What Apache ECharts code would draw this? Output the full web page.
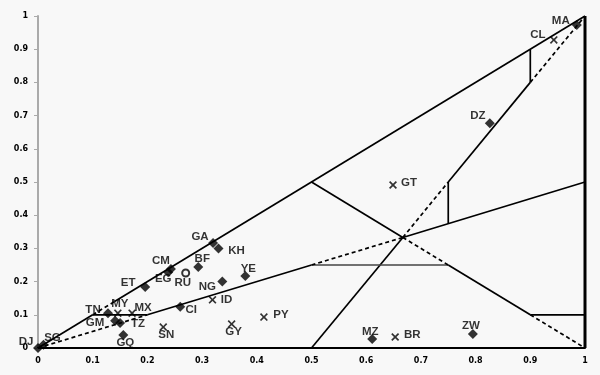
<!DOCTYPE html>
<html><head><meta charset="utf-8">
<script src="https://cdn.jsdelivr.net/npm/echarts@6/dist/echarts.min.js"></script>
<style>html,body{margin:0;padding:0;background:#f8f8f8}#c{width:600px;height:375px}</style>
</head><body><div id="c"></div>
<script>
// ---- data ----
var diamondCodes = ['DJ','SG','TN','GM','TZ','GQ','ET','CI','CM','EG','BF','NG','GA','KH','YE','MZ','ZW','DZ','MA'];
var diamondX =     [0.0, 0.01,0.128,0.141,0.15,0.156,0.196,0.26,0.243,0.238,0.293,0.337,0.32,0.33,0.379,0.611,0.795,0.826,0.985];
var diamondY =     [0.0, 0.01,0.105,0.082,0.075,0.039,0.184,0.124,0.238,0.228,0.244,0.2,0.316,0.30,0.217,0.027,0.042,0.677,0.973];
var crossCodes = ['MY','MX','SN','ID','PY','GY','BR','GT','CL'];
var crossX =     [0.146,0.172,0.229,0.319,0.413,0.354,0.653,0.649,0.943];
var crossY =     [0.105,0.105,0.063,0.145,0.093,0.072,0.033,0.491,0.928];
var circleCodes = ['RU'];
var circleX = [0.27];
var circleY = [0.226];
var tickLabels = ['0','0.1','0.2','0.3','0.4','0.5','0.6','0.7','0.8','0.9','1'];
// structural lines of the diagram
var solidSegments = [
  [[0,0],[0.1,0.1]], [[0.14,0.14],[1,1]], [[0.1,0.1],[0.2,0.1]], [[0.2,0.1],[0.5,0.25]],
  [[0.667,0.333],[1,0.5]], [[0.5,0.5],[0.667,0.333]], [[0.75,0.25],[0.9,0.1]],
  [[0.9,0.1],[1,0.1]], [[0.5,0],[0.667,0.333]], [[0.75,0.5],[0.9,0.8]],
  [[0.75,0.375],[0.75,0.5]], [[0.9,0.8],[0.9,0.9]]
];
var greySegments = [[[0.5,0.25],[0.75,0.25]]];
var borderSegments = [[[1,0],[1,1]]];
var dashedSegments = [
  [[0.1,0.1],[0.14,0.14]], [[0,0],[0.2,0.1]], [[0.5,0.25],[0.667,0.333]],
  [[0.667,0.333],[0.75,0.25]], [[0.9,0.1],[1,0]], [[0.667,0.333],[0.75,0.5]], [[0.9,0.8],[1,1]]
];
// label placement (pixel offsets from marker)
var labelOffsets = {
  DJ:[-12,-6], SG:[9,-7], TN:[-15,-3], MY:[2,-9], MX:[11,-5], GM:[-20,2], TZ:[18,1], GQ:[2,8],
  ET:[-17,-4], SN:[3,8], CI:[11,3], CM:[-10,-8], EG:[-5,7], RU:[-3,10], BF:[4,-8], NG:[-15,5],
  GA:[-13,-6], KH:[18,2], YE:[3,-7], ID:[14,0], PY:[17,-2], GY:[2,8], MZ:[-2,-7], BR:[17,-2],
  ZW:[-2,-8], GT:[16,-2], DZ:[-12,-7], CL:[-16,-5], MA:[-16,-4]
};

// ---- build ----
var labelFont = {fontFamily:'Liberation Sans', fontWeight:'bold', fontSize:11.5, color:'#000'};
function pts(codes, xs, ys){
  return codes.map(function(c,i){
    var o = labelOffsets[c] || [0,0];
    return {name:c, value:[xs[i], ys[i]],
      label:Object.assign({show:true, formatter:c, position:'inside', offset:o, align:'center', verticalAlign:'middle'}, labelFont)};
  });
}
var series = [];
function addSegs(segs, style){
  segs.forEach(function(s){
    series.push({type:'line', data:s, showSymbol:false, symbol:'none', silent:true, z:1,
      lineStyle:style, animation:false});
  });
}
addSegs(solidSegments, {color:'#000', width:1.7, type:'solid'});
addSegs(greySegments, {color:'#444', width:1.7, type:'solid'});
addSegs(borderSegments, {color:'#000', width:3, type:'solid'});
addSegs(dashedSegments, {color:'#000', width:1.7, type:[4,3]});
series.push({type:'scatter', symbol:'diamond', symbolSize:[10,10], itemStyle:{color:'#000'}, z:5,
  data:pts(diamondCodes, diamondX, diamondY), animation:false});
series.push({type:'scatter', symbol:'path://M0,1.5L1.5,0L5,3.5L8.5,0L10,1.5L6.5,5L10,8.5L8.5,10L5,6.5L1.5,10L0,8.5L3.5,5Z',
  symbolSize:8, itemStyle:{color:'#000'}, z:5, data:pts(crossCodes, crossX, crossY), animation:false});
series.push({type:'scatter', symbol:'circle', symbolSize:7,
  itemStyle:{color:'#f8f8f8', borderColor:'#000', borderWidth:2}, z:5,
  data:pts(circleCodes, circleX, circleY), animation:false});

var axisLabelStyle = {fontFamily:'DejaVu Sans', fontWeight:'bold', fontSize:8, color:'#000',
  formatter:function(v){ var i = Math.round(v*10); return tickLabels[i]; }};
var chart = echarts.init(document.getElementById('c'), null, {renderer:'canvas'});
chart.setOption({
  backgroundColor:'#f8f8f8',
  animation:false,
  grid:{left:38, right:15, top:16, bottom:27},
  xAxis:{type:'value', min:0, max:1, interval:0.1,
    axisLine:{show:true, onZero:false, lineStyle:{color:'#000', width:2}},
    axisTick:{show:false}, splitLine:{show:false},
    axisLabel:Object.assign({margin:9}, axisLabelStyle)},
  yAxis:{type:'value', min:0, max:1, interval:0.1,
    axisLine:{show:true, onZero:false, lineStyle:{color:'#aaa', width:2}},
    axisTick:{show:true, length:4, lineStyle:{color:'#aaa'}}, splitLine:{show:false},
    axisLabel:Object.assign({margin:10}, axisLabelStyle)},
  series:series
});
</script></body></html>
